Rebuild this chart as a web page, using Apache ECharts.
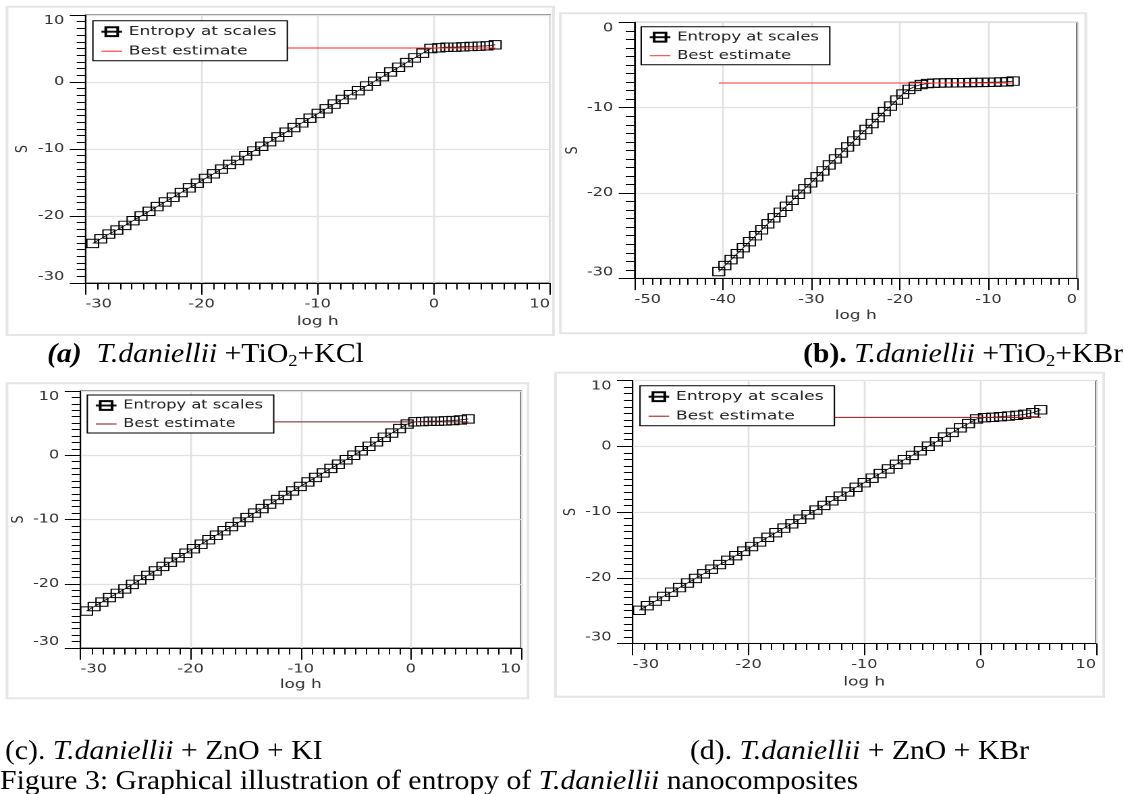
<!DOCTYPE html>
<html><head><meta charset="utf-8">
<script src="https://cdn.jsdelivr.net/npm/echarts@6/dist/echarts.min.js"></script>
<style>
html,body{margin:0;padding:0;background:#fff;overflow:hidden;}
#chart{width:832px;height:794px;transform:scaleX(1.35);transform-origin:0 0;}
</style></head><body><div id="chart"></div>
<script>
// ---------- DATA ----------
const seriesNames = ['Entropy at scales', 'Best estimate'];
const axisNames = ['log h', 'S'];

const logH_a = [-29.38,-28.69,-27.99,-27.30,-26.61,-25.91,-25.22,-24.53,-23.83,-23.14,-22.45,-21.76,-21.06,-20.37,-19.68,-18.98,-18.29,-17.60,-16.90,-16.21,-15.52,-14.82,-14.13,-13.44,-12.74,-12.05,-11.36,-10.67,-9.97,-9.28,-8.59,-7.89,-7.20,-6.51,-5.81,-5.12,-4.43,-3.73,-3.04,-2.35,-1.66,-0.96,-0.27,0.42,1.12,1.81,2.50,3.20,3.89,4.58,5.28];
const S_a = [-24.1,-23.4,-22.7,-22.1,-21.4,-20.7,-20.0,-19.3,-18.6,-17.9,-17.2,-16.5,-15.8,-15.1,-14.4,-13.7,-13.0,-12.3,-11.7,-11.0,-10.3,-9.6,-8.9,-8.2,-7.5,-6.8,-6.1,-5.4,-4.7,-4.0,-3.3,-2.6,-1.9,-1.3,-0.6,0.1,0.8,1.5,2.2,2.9,3.6,4.3,5.0,5.1,5.2,5.2,5.25,5.3,5.35,5.4,5.55];
const best_a = 5.07;

const logH_b = [-40.48,-39.79,-39.09,-38.40,-37.71,-37.01,-36.32,-35.63,-34.93,-34.24,-33.55,-32.86,-32.16,-31.47,-30.78,-30.08,-29.39,-28.70,-28.00,-27.31,-26.62,-25.92,-25.23,-24.54,-23.85,-23.15,-22.46,-21.77,-21.07,-20.38,-19.69,-18.99,-18.30,-17.61,-16.91,-16.22,-15.53,-14.84,-14.14,-13.45,-12.76,-12.06,-11.37,-10.68,-9.98,-9.29,-8.60,-7.90,-7.21];
const S_b = [-29.2,-28.5,-27.8,-27.1,-26.4,-25.7,-25.0,-24.3,-23.6,-22.9,-22.25,-21.55,-20.85,-20.15,-19.5,-18.8,-18.1,-17.4,-16.7,-16.0,-15.3,-14.6,-13.9,-13.2,-12.55,-11.85,-11.15,-10.45,-9.8,-9.1,-8.4,-7.85,-7.5,-7.28,-7.17,-7.12,-7.1,-7.09,-7.08,-7.07,-7.06,-7.05,-7.04,-7.03,-7.02,-7.0,-6.98,-6.96,-6.88];
const best_b = -7.1;

const logH_c = [-29.45,-28.76,-28.06,-27.37,-26.68,-25.98,-25.29,-24.60,-23.90,-23.21,-22.52,-21.83,-21.13,-20.44,-19.75,-19.05,-18.36,-17.67,-16.97,-16.28,-15.59,-14.89,-14.20,-13.51,-12.81,-12.12,-11.43,-10.74,-10.04,-9.35,-8.66,-7.96,-7.27,-6.58,-5.88,-5.19,-4.50,-3.80,-3.11,-2.42,-1.73,-1.03,-0.34,0.35,1.05,1.74,2.43,3.13,3.82,4.51,5.21];
const S_c = [-24.25,-23.55,-22.85,-22.15,-21.5,-20.8,-20.1,-19.4,-18.7,-18.0,-17.3,-16.65,-15.95,-15.25,-14.55,-13.85,-13.15,-12.45,-11.75,-11.1,-10.4,-9.7,-9.0,-8.3,-7.6,-6.9,-6.25,-5.55,-4.85,-4.15,-3.45,-2.75,-2.05,-1.4,-0.7,0.0,0.7,1.4,2.1,2.8,3.45,4.15,4.85,5.2,5.25,5.3,5.3,5.35,5.4,5.5,5.65];
const best_c = 5.2;

const logH_d = [-29.43,-28.74,-28.04,-27.35,-26.66,-25.96,-25.27,-24.58,-23.88,-23.19,-22.50,-21.81,-21.11,-20.42,-19.73,-19.03,-18.34,-17.65,-16.95,-16.26,-15.57,-14.87,-14.18,-13.49,-12.79,-12.10,-11.41,-10.72,-10.02,-9.33,-8.64,-7.94,-7.25,-6.56,-5.86,-5.17,-4.48,-3.78,-3.09,-2.40,-1.71,-1.01,-0.32,0.37,1.07,1.76,2.45,3.15,3.84,4.53,5.23];
const S_d = [-24.95,-24.25,-23.55,-22.85,-22.2,-21.5,-20.8,-20.1,-19.4,-18.7,-18.0,-17.35,-16.65,-15.95,-15.25,-14.55,-13.85,-13.15,-12.45,-11.8,-11.1,-10.4,-9.7,-9.0,-8.3,-7.6,-6.95,-6.25,-5.55,-4.85,-4.15,-3.45,-2.75,-2.05,-1.4,-0.7,0.0,0.7,1.4,2.1,2.8,3.45,4.15,4.35,4.4,4.5,4.6,4.7,4.85,5.1,5.55];
const best_d = 4.4;

// axis ranges (tick labels come from these with interval 10)
const xRange_a = [-30, 10], yRange_a = [-30, 10];
const xRange_b = [-50, 0],  yRange_b = [-30, 0];
const xRange_c = [-30, 10], yRange_c = [-30, 10];
const xRange_d = [-30, 10], yRange_d = [-30, 10];

const captions = [
  '{bi|(a)}  {i|T.daniellii} +TiO{s|2}+KCl',
  '{b|(b).} {i|T.daniellii} +TiO{s|2}+KBr',
  '(c). {i|T.daniellii} + ZnO + KI',
  '(d). {i|T.daniellii} + ZnO + KBr',
  'Figure 3: Graphical illustration of entropy of {i|T.daniellii} nanocomposites'
];

// ---------- LAYOUT (screen pixels; the canvas is stretched horizontally) ----------
const STRETCH = 1.35;
const sx = v => v / STRETCH;

const panels = [
  {x: logH_a, s: S_a, best: best_a, xr: xRange_a, yr: yRange_a, bestColor: '#ff2222',
   grid: [85.5, 15, 464.5, 268], legend: [92.9, 20.7], legendFont: 12.7, yNameGap: 40, xNameGap: 32,
   frame: [7, 6.7, 546.5, 328.3]},
  {x: logH_b, s: S_b, best: best_b, xr: xRange_b, yr: yRange_b, bestColor: '#f03a3a',
   grid: [634.5, 22.4, 442.5, 256], legend: [641.2, 26.7], legendFont: 12.2, yNameGap: 35, xNameGap: 31,
   frame: [560.4, 13.3, 525.4, 320]},
  {x: logH_c, s: S_c, best: best_c, xr: xRange_c, yr: yRange_c, bestColor: '#7a1c1c',
   grid: [80.5, 391, 440.5, 257], legend: [87.3, 395], legendFont: 12.0, yNameGap: 38.5, xNameGap: 30,
   frame: [7, 383.3, 521, 315]},
  {x: logH_d, s: S_d, best: best_d, xr: xRange_d, yr: yRange_d, bestColor: '#9a1010',
   grid: [632.7, 380.5, 463.3, 263], legend: [640, 385.7], legendFont: 12.7, yNameGap: 38.7, xNameGap: 32,
   frame: [555.5, 372.7, 548.2, 324]}
];

const captionPos = [[47, 355], [803, 355], [5, 752], [690, 752], [0, 782]];

const FONT = 'DejaVu Sans';
const SERIF = 'Liberation Serif';

const option = {
  animation: false,
  backgroundColor: '#ffffff',
  textStyle: {fontFamily: FONT},
  grid: [], xAxis: [], yAxis: [], legend: [], series: [], graphic: []
};

panels.forEach((p, i) => {
  option.grid.push({
    left: sx(p.grid[0]), top: p.grid[1], width: sx(p.grid[2]), height: p.grid[3],
    show: true, borderColor: '#000', borderWidth: 1, backgroundColor: 'rgba(0,0,0,0)',
    containLabel: false, outerBoundsMode: 'none'
  });
  const common = {
    type: 'value', gridIndex: i, interval: 10, nameLocation: 'middle',
    nameTextStyle: {fontSize: 12.5, color: '#333', fontFamily: FONT},
    axisLine: {show: true, onZero: false, lineStyle: {color: '#000', width: 1}},
    axisTick: {show: true, inside: false, length: 11.7, lineStyle: {color: '#000', width: 1}},
    minorTick: {show: true, splitNumber: 10, length: 6.5, lineStyle: {color: '#000', width: 1}},
    splitLine: {show: true, lineStyle: {color: '#e2e2e2', width: 1.3}},
    minorSplitLine: {show: false}
  };
  option.xAxis.push(Object.assign({}, common, {
    min: p.xr[0], max: p.xr[1], name: axisNames[0], nameGap: p.xNameGap,
    axisLabel: {show: true, margin: 15.5, fontSize: 12, color: '#333', fontFamily: FONT,
      alignMinLabel: 'left', alignMaxLabel: 'right', hideOverlap: false, showMinLabel: true, showMaxLabel: true}
  }));
  option.yAxis.push(Object.assign({}, common, {
    min: p.yr[0], max: p.yr[1], name: axisNames[1], nameGap: p.yNameGap, nameRotate: 90,
    axisLabel: {show: true, margin: 15.7, fontSize: 12, color: '#333', fontFamily: FONT,
      verticalAlignMinLabel: 'bottom', verticalAlignMaxLabel: 'top', hideOverlap: false, showMinLabel: true, showMaxLabel: true}
  }));
  option.series.push({
    name: seriesNames[0], type: 'line', xAxisIndex: i, yAxisIndex: i,
    data: p.x.map((v, k) => [v, p.s[k]]),
    symbol: 'rect', symbolSize: [8.7, 8.4], showSymbol: true, showAllSymbol: true,
    itemStyle: {color: 'rgba(255,255,255,0)', borderColor: '#000', borderWidth: 1},
    lineStyle: {color: '#111', width: 0.8},
    emphasis: {disabled: true}, z: 2
  });
  option.series.push({
    name: seriesNames[1], type: 'line', xAxisIndex: i, yAxisIndex: i,
    data: [[p.x[0], p.best], [p.x[p.x.length - 1], p.best]],
    symbol: 'none', lineStyle: {color: p.bestColor, width: 1}, itemStyle: {color: p.bestColor},
    emphasis: {disabled: true}, z: 3
  });
  option.legend.push({
    orient: 'vertical', left: sx(p.legend[0]), top: p.legend[1],
    itemWidth: 15.3, itemHeight: 11, itemGap: 6.5, padding: [4.5, 8, 3, 5.3],
    backgroundColor: '#fff', borderColor: '#000', borderWidth: 1, borderRadius: 0,
    selectedMode: false, z: 6,
    textStyle: {fontSize: p.legendFont, color: '#222', fontFamily: FONT},
    data: [{name: seriesNames[0]},
           {name: seriesNames[1],
            itemStyle: {color: 'rgba(0,0,0,0)', borderColor: 'rgba(0,0,0,0)', borderWidth: 0, opacity: 0},
            lineStyle: {color: p.bestColor, width: 1, opacity: 1}}]
  });
  option.graphic.push({
    type: 'rect', silent: true, z: 0,
    shape: {x: sx(p.frame[0]), y: p.frame[1], width: sx(p.frame[2]), height: p.frame[3]},
    style: {fill: 'none', stroke: '#e6e6e6', lineWidth: 2}
  });
});

const CAP_SIZE = 27, CAP_STRETCH = 1.1;
const rich = {
  bi: {fontFamily: SERIF, fontSize: CAP_SIZE, fontWeight: 'bold', fontStyle: 'italic', lineHeight: 30, fill: '#000'},
  b:  {fontFamily: SERIF, fontSize: CAP_SIZE, fontWeight: 'bold', lineHeight: 30, fill: '#000'},
  i:  {fontFamily: SERIF, fontSize: CAP_SIZE, fontStyle: 'italic', lineHeight: 30, fill: '#000'},
  s:  {fontFamily: SERIF, fontSize: 17, lineHeight: 19, verticalAlign: 'bottom', fill: '#000'}
};
captions.forEach((t, i) => {
  option.graphic.push({
    type: 'text', silent: true, z: 10,
    x: sx(captionPos[i][0]), y: captionPos[i][1], scaleX: CAP_STRETCH / STRETCH,
    style: {text: t, rich: rich, fontFamily: SERIF, fontSize: CAP_SIZE, fill: '#000',
            align: 'left', verticalAlign: 'middle', lineHeight: 30}
  });
});

const chart = echarts.init(document.getElementById('chart'), null, {renderer: 'canvas', devicePixelRatio: 2});
chart.setOption(option);
</script>
</body></html>
